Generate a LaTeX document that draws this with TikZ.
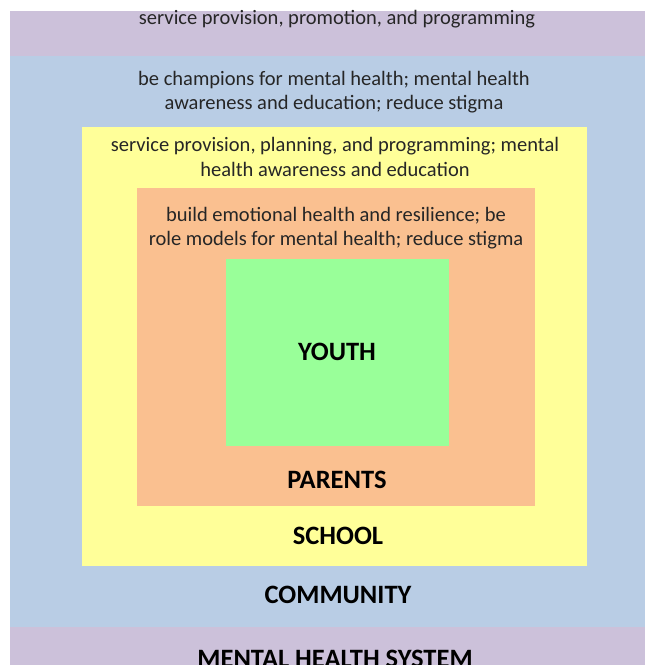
\documentclass[tikz,border=0pt]{standalone}
\usepackage{fontspec}
\setmainfont{Carlito}
\definecolor{mhpurple}{HTML}{CCC1DA}
\definecolor{mhblue}{HTML}{B9CDE5}
\definecolor{mhyellow}{HTML}{FFFF99}
\definecolor{mhorange}{HTML}{FAC090}
\definecolor{mhgreen}{HTML}{99FF99}
\tikzset{
  desc/.style={align=center, font=\fontsize{20.5}{24.5}\selectfont, text=black!85, inner sep=0pt},
  lbl/.style={font=\fontsize{26.5}{30}\selectfont\bfseries, text=black, inner sep=0pt}
}
\begin{document}
\begin{tikzpicture}[x=1pt,y=-1pt]
\useasboundingbox (0,0) rectangle (645,665);
\clip (0,0) rectangle (645,665);
\fill[white] (0,0) rectangle (645,665);
\fill[mhpurple] (10,11) rectangle (645,665);
\fill[mhblue] (10,56) rectangle (645,627);
\fill[mhyellow] (82,127) rectangle (587,566);
\fill[mhorange] (137,188) rectangle (535,506);
\fill[mhgreen] (226,259) rectangle (449,446);
\node[desc] (t1) at (337,19) {service provision, promotion, and programming};
\node[desc] (t2) at (334,92) {be champions for mental health; mental health\\awareness and education; reduce stigma};
\node[desc] (t3) at (335,157) {service provision, planning, and programming; mental\\health awareness and education};
\node[desc] (t4) at (336,228) {build emotional health and resilience; be\\role models for mental health; reduce stigma};
\node[lbl] (youth) at (337,352) {YOUTH};
\node[lbl] (parents) at (337,480) {PARENTS};
\node[lbl] (school) at (338,536) {SCHOOL};
\node[lbl] (community) at (338,595) {COMMUNITY};
\node[lbl] (mhs) at (335,659) {MENTAL HEALTH SYSTEM};
\end{tikzpicture}
\end{document}
